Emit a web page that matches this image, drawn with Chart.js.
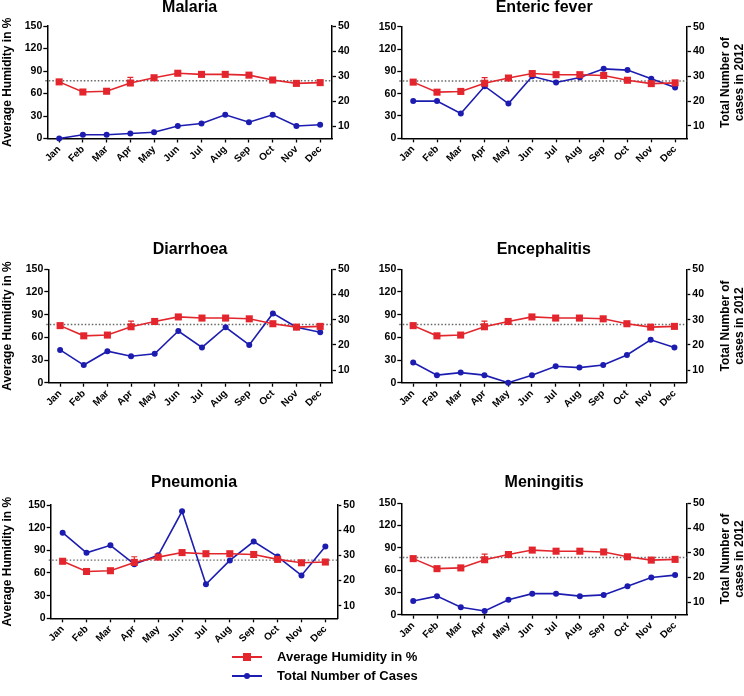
<!DOCTYPE html>
<html>
<head>
<meta charset="utf-8">
<script src="https://cdn.jsdelivr.net/npm/chart.js@4.4.0/dist/chart.umd.min.js"></script>
<style>
  body { margin: 0; background: #fff; width: 744px; height: 696px; position: relative; overflow: hidden;
         font-family: "Liberation Sans", Arial, sans-serif; }
  canvas { position: absolute; }
  .legend { position: absolute; left: 232px; font-weight: bold; font-size: 13px; color: #000; }
  .legend .row { position: absolute; left: 0; white-space: nowrap; height: 16px; line-height: 16px; }
  .legend .line { position: absolute; left: 0; top: 7px; width: 30px; height: 2px; }
  .legend .mark { position: absolute; }
  .legend .txt { position: absolute; left: 45px; top: 0; }
</style>
</head>
<body>
<canvas id="c0"></canvas>
<canvas id="c1"></canvas>
<canvas id="c2"></canvas>
<canvas id="c3"></canvas>
<canvas id="c4"></canvas>
<canvas id="c5"></canvas>

<div class="legend">
  <div class="row" style="top:649px">
    <div class="line" style="background:#e3262d"></div>
    <div class="mark" style="left:11px;top:4px;width:8px;height:8px;background:#e3262d"></div>
    <div class="txt">Average Humidity in %</div>
  </div>
  <div class="row" style="top:668px">
    <div class="line" style="background:#1c1cb0"></div>
    <div class="mark" style="left:12px;top:5px;width:6px;height:6px;border-radius:3px;background:#1c1cb0"></div>
    <div class="txt">Total Number of Cases</div>
  </div>
</div>

<script>
// data
const months = ['Jan', 'Feb', 'Mar', 'Apr', 'May', 'Jun', 'Jul', 'Aug', 'Sep', 'Oct', 'Nov', 'Dec'];
const humidity = [75.5, 62, 63, 74, 81, 87, 85.5, 85.5, 84.5, 78, 73.5, 74.5];
const humidityErrUp = [0, 0, 0, 7.5, 0, 0, 0, 0, 0, 0, 0, 0];
const humidityMean = 77;

const malariaCases = [5, 6.5, 6.5, 7, 7.5, 10, 11, 14.5, 11.5, 14.5, 10, 10.5];
const entericCases = [20, 20, 15, 26, 19, 30, 27.5, 29.5, 33, 32.5, 29, 25.5];
const diarrhoeaCases = [18, 12, 17.5, 15.5, 16.5, 25.5, 19, 27, 20, 32.5, 27, 25];
const encephalitisCases = [13, 8, 9, 8, 5, 8, 11.5, 11, 12, 16, 22, 19];
const pneumoniaCases = [39, 31, 34, 26.5, 30, 47.5, 18.5, 28, 35.5, 29.5, 22, 33.5];
const meningitisCases = [10.5, 12.5, 8, 6.5, 11, 13.5, 13.5, 12.5, 13, 16.5, 20, 21];

const humidityTicks = { min: 0, max: 150, step: 30 };
const caseTicks = [10, 20, 30, 40, 50];
const caseAxisMin = 5;

const RED = '#e3262d';
const BLUE = '#1c1cb0';
const FONT = 'Liberation Sans';

// panel placement (page px): chart area edges and title centre
const panels = [
  { id: 'c0', title: 'Malaria',      cases: malariaCases,      x: 0,   titleY: 8,     L: 47.3,  R: 332,   T: 26,    B: 138.5, left: true },
  { id: 'c1', title: 'Enteric fever', cases: entericCases,     x: 372, titleY: 8,     L: 401.3, R: 687,   T: 26.7,  B: 138.3, right: true },
  { id: 'c2', title: 'Diarrhoea',    cases: diarrhoeaCases,    x: 0,   titleY: 250,   L: 48.3,  R: 332,   T: 269.3, B: 382.7, left: true },
  { id: 'c3', title: 'Encephalitis', cases: encephalitisCases, x: 372, titleY: 250,   L: 401.3, R: 686.3, T: 269.3, B: 382.7, right: true },
  { id: 'c4', title: 'Pneumonia',    cases: pneumoniaCases,    x: 0,   titleY: 482.7, L: 50.7,  R: 337.3, T: 505,   B: 618.3, left: true },
  { id: 'c5', title: 'Meningitis',   cases: meningitisCases,   x: 372, titleY: 482.5, L: 401.3, R: 687,   T: 503.3, B: 614.7, right: true }
];

const meanLine = {
  id: 'meanLine',
  beforeDatasetsDraw(chart) {
    const { ctx, chartArea, scales } = chart;
    const y = scales.y.getPixelForValue(humidityMean);
    ctx.save();
    ctx.strokeStyle = '#666';
    ctx.lineWidth = 1.3;
    ctx.setLineDash([1.5, 2]);
    ctx.beginPath();
    ctx.moveTo(chartArea.left - 2, y);
    ctx.lineTo(chartArea.right, y);
    ctx.stroke();
    ctx.restore();
  }
};

const errorBars = {
  id: 'errorBars',
  afterDatasetsDraw(chart) {
    const { ctx, scales } = chart;
    ctx.save();
    ctx.strokeStyle = RED;
    ctx.lineWidth = 1.2;
    humidityErrUp.forEach((e, i) => {
      if (!e) return;
      const x = scales.x.getPixelForValue(i);
      const y0 = scales.y.getPixelForValue(humidity[i]);
      const y1 = scales.y.getPixelForValue(humidity[i] + e);
      ctx.beginPath();
      ctx.moveTo(x, y0);
      ctx.lineTo(x, y1);
      ctx.moveTo(x - 3, y1);
      ctx.lineTo(x + 3, y1);
      ctx.stroke();
    });
    ctx.restore();
  }
};

const rightTitle = {
  id: 'rightTitle',
  afterDraw(chart, args, opts) {
    if (!opts.show) return;
    const { ctx, chartArea } = chart;
    const cy = (chartArea.top + chartArea.bottom) / 2;
    ctx.save();
    ctx.fillStyle = '#000';
    ctx.font = 'bold 12px "' + FONT + '"';
    ctx.textAlign = 'center';
    ctx.textBaseline = 'middle';
    [['Total Number of', 39], ['cases in 2012', 53]].forEach(([t, dx]) => {
      ctx.save();
      ctx.translate(chartArea.right + dx, cy);
      ctx.rotate(-Math.PI / 2);
      ctx.fillText(t, 0, 0);
      ctx.restore();
    });
    ctx.restore();
  }
};

const X_H = 40;
const Y1_W = 30;

panels.forEach(p => {
  const canvas = document.getElementById(p.id);
  const top = Math.floor(p.titleY - 8);
  const height = Math.ceil(p.B - top + X_H + 4);
  canvas.width = 372;
  canvas.height = height;
  canvas.style.left = p.x + 'px';
  canvas.style.top = top + 'px';

  const yW = p.L - p.x;
  const padRight = p.x + 372 - p.R - Y1_W;
  const padBottom = height - (p.B - top) - X_H;

  new Chart(canvas, {
    type: 'line',
    data: {
      labels: months,
      datasets: [{
        label: 'Average Humidity in %',
        data: humidity,
        yAxisID: 'y',
        borderColor: RED,
        backgroundColor: RED,
        borderWidth: 1.6,
        pointStyle: 'rect',
        pointRadius: 5,
        pointBorderWidth: 0,
        tension: 0,
        clip: false
      }, {
        label: 'Total Number of Cases',
        data: p.cases,
        yAxisID: 'y1',
        borderColor: BLUE,
        backgroundColor: BLUE,
        borderWidth: 1.6,
        pointStyle: 'circle',
        pointRadius: 3,
        pointBorderWidth: 0,
        tension: 0,
        clip: false
      }]
    },
    options: {
      responsive: false,
      animation: false,
      layout: { padding: { top: 0, left: 0, right: padRight, bottom: padBottom } },
      plugins: {
        legend: { display: false },
        tooltip: { enabled: false },
        title: {
          display: true,
          text: p.title,
          fullSize: false,
          color: '#000',
          font: { family: FONT, size: 16, weight: 'bold', lineHeight: 1 },
          padding: { top: p.titleY - 8 - top, bottom: p.T - p.titleY - 8 }
        },
        rightTitle: { show: !!p.right }
      },
      scales: {
        x: {
          type: 'category',
          offset: true,
          grid: { drawOnChartArea: false, offset: false, tickLength: 4, tickColor: '#000', tickWidth: 1.3 },
          border: { display: true, color: '#000', width: 1.5 },
          ticks: { color: '#000', font: { family: FONT, size: 10, weight: 'bold' },
                   minRotation: 45, maxRotation: 45, autoSkip: false, padding: 1 },
          afterFit(s) { s.height = X_H; }
        },
        y: {
          position: 'left',
          min: humidityTicks.min,
          max: humidityTicks.max,
          ticks: { stepSize: humidityTicks.step, color: '#000', padding: 1,
                   font: { family: FONT, size: 10.5, weight: 'bold' } },
          grid: { drawOnChartArea: false, tickLength: 4, tickColor: '#000', tickWidth: 1.3 },
          border: { display: true, color: '#000', width: 1.5 },
          title: { display: !!p.left, text: 'Average Humidity in %', color: '#000',
                   padding: { top: 0, bottom: 0 },
                   font: { family: FONT, size: 12, weight: 'bold' } },
          afterFit(s) { s.width = yW; }
        },
        y1: {
          position: 'right',
          min: caseAxisMin,
          max: 50,
          afterBuildTicks(s) { s.ticks = caseTicks.map(v => ({ value: v })); },
          ticks: { color: '#000', padding: 2, font: { family: FONT, size: 10.5, weight: 'bold' } },
          grid: { drawOnChartArea: false, tickLength: 4, tickColor: '#000', tickWidth: 1.3 },
          border: { display: true, color: '#000', width: 1.5 },
          afterFit(s) { s.width = Y1_W; }
        }
      }
    },
    plugins: [meanLine, errorBars, rightTitle]
  });
});
</script>
</body>
</html>
